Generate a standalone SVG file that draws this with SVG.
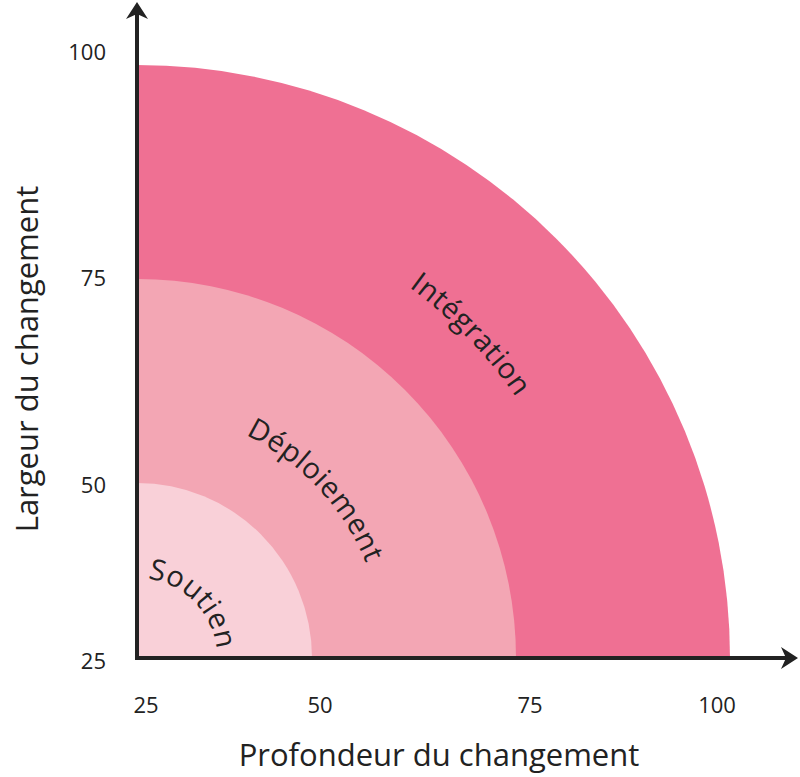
<svg xmlns="http://www.w3.org/2000/svg" xmlns:xlink="http://www.w3.org/1999/xlink" width="800" height="777" viewBox="0 0 800 777">
<style>
.tick{font-family:"Open Sans","Liberation Sans",sans-serif;font-size:22px;fill:#222}
.title{font-family:"Open Sans","Liberation Sans",sans-serif;font-size:31px;fill:#222}
.zone{font-family:"Open Sans","Liberation Sans",sans-serif;font-size:29px;fill:#222;letter-spacing:0.5px}
.axis{stroke:#222;stroke-width:4;fill:none}
</style>
<defs>
<path id="pI" d="M137,198 A460,460 0 0 1 597,658"/>
<path id="pD" d="M137,410 A248,248 0 0 1 385,658"/>
<path id="pS" d="M137,578 A80,80 0 0 1 217,658"/>
</defs>
<g id="integration">
<path d="M137,658 L137,65 A593,593 0 0 1 730,658 Z" fill="#EF7093"/>
<text class="zone"><textPath xlink:href="#pI" startOffset="51%" text-anchor="middle">Intégration</textPath></text>
</g>
<g id="deploiement">
<path d="M137,658 L137,279 A379,379 0 0 1 516,658 Z" fill="#F3A6B4"/>
<text class="zone"><textPath xlink:href="#pD" startOffset="52%" text-anchor="middle">Déploiement</textPath></text>
</g>
<g id="soutien">
<path d="M137,658 L137,483 A175,175 0 0 1 312,658 Z" fill="#F9D0D8"/>
<text class="zone"><textPath xlink:href="#pS" startOffset="51%" text-anchor="middle">Soutien</textPath></text>
</g>
<g id="axes">
<path class="axis" d="M137,660 L137,8"/>
<path class="axis" d="M135,658 L792,658"/>
<path d="M137,2 L148,19 L137,14 L126,19 Z" fill="#222"/>
<path d="M798,658 L781,669 L786,658 L781,647 Z" fill="#222"/>
</g>
<g id="labels">
<text class="tick" x="106" y="60" text-anchor="end">100</text>
<text class="tick" x="106" y="286" text-anchor="end">75</text>
<text class="tick" x="106" y="493" text-anchor="end">50</text>
<text class="tick" x="106" y="669" text-anchor="end">25</text>
<text class="tick" x="146" y="713" text-anchor="middle">25</text>
<text class="tick" x="320" y="713" text-anchor="middle">50</text>
<text class="tick" x="530" y="713" text-anchor="middle">75</text>
<text class="tick" x="717" y="713" text-anchor="middle">100</text>
<text class="title" x="439" y="766" text-anchor="middle">Profondeur du changement</text>
<text class="title" transform="translate(38,359) rotate(-90)" text-anchor="middle">Largeur du changement</text>
</g>
</svg>
